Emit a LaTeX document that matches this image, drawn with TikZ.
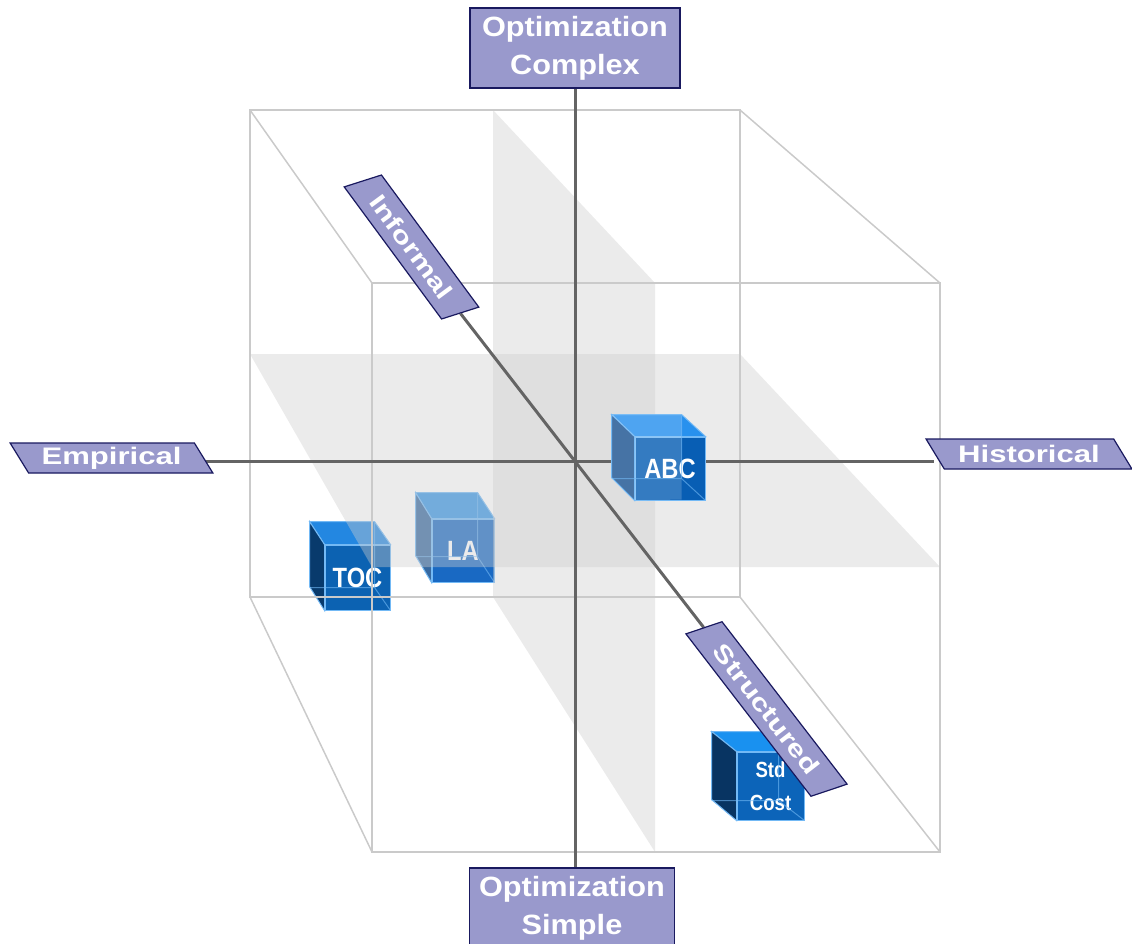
\documentclass[tikz,border=0pt]{standalone}
\usepackage{fontspec}
\setmainfont{Liberation Sans}
\newfontfamily\boxfont[FakeStretch=1.1]{Liberation Sans}
\newfontfamily\tagfont[FakeStretch=1.3]{Liberation Sans}
\newfontfamily\blockfont[FakeStretch=0.85]{Liberation Sans}
\usetikzlibrary{shapes,shapes.geometric}
\usepackage{xcolor}

\definecolor{lavender}{RGB}{153,153,204}
\definecolor{navyline}{RGB}{25,25,95}
\definecolor{wire}{RGB}{202,202,202}
\definecolor{axisgrey}{RGB}{100,100,100}
\definecolor{planegrey}{RGB}{205,205,205}
\definecolor{blockedge}{RGB}{115,185,245}
\definecolor{abcfront}{RGB}{8,94,180}
\definecolor{abctop}{RGB}{40,145,238}
\definecolor{abcside}{RGB}{70,115,165}
\definecolor{lafront}{RGB}{25,105,195}
\definecolor{latop}{RGB}{55,150,230}
\definecolor{laside}{RGB}{55,105,160}
\definecolor{tocfront}{RGB}{12,98,178}
\definecolor{toctop}{RGB}{35,135,225}
\definecolor{tocside}{RGB}{8,58,108}
\definecolor{stdfront}{RGB}{12,100,185}
\definecolor{stdtop}{RGB}{25,145,240}
\definecolor{stdside}{RGB}{8,52,98}

\pgfdeclarelayer{back}
\pgfsetlayers{back,main}

\begin{document}
\begin{tikzpicture}[
        x=1bp, y=-1bp,
        axisbox/.style={
            rectangle, draw=navyline, line width=1.5bp, fill=lavender,
            text=white, align=center, inner sep=0pt,
            font=\boxfont\bfseries\fontsize{28}{38}\selectfont
        },
        axistag/.style={
            trapezium, trapezium stretches=true, draw=navyline,
            line width=1.2bp, fill=lavender, text=white, inner sep=0pt,
            font=\tagfont\bfseries\fontsize{24}{28}\selectfont
        },
        axisline/.style={draw=axisgrey, line width=3bp},
        wireline/.style={draw=wire, line width=1.5bp},
        plane/.style={fill=planegrey, fill opacity=0.4},
        blockfront/.style={
            rectangle, draw=blockedge, line width=1bp, text=white,
            inner sep=0pt, align=center,
            font=\blockfont\bfseries\fontsize{28}{30}\selectfont
        },
        blockface/.style={draw=blockedge, line width=1bp},
        blockinner/.style={draw=blockedge, line width=1bp, opacity=0.6},
        blockglass/.style={fill=white, fill opacity=0.18}
    ]
        \useasboundingbox (0,0) rectangle (1132,944);

        \node (abc) [
            blockfront,
            fill=abcfront,
            minimum width=70bp,
            minimum height=63bp
        ] at (670,468.5) {ABC};
        \filldraw[blockface, fill=abctop] (abc.north west) -- ++(-23,-22) -- ++(70,0) -- (abc.north east) -- cycle;
        \filldraw[blockface, fill=abcside] (abc.north west) -- ++(-23,-22) -- ++(0,63) -- (abc.south west) -- cycle;
        \fill[blockglass] (abc.north west) -- ++(-23,-22) -- ++(70,0) -- ++(0,85) -- (abc.south west) -- cycle;
        \draw[blockinner] (abc.south west) ++(-23,-22) -- ++(70,0) -- ++(0,-63) ++(0,63) -- (abc.south east);

        \node (std) [
            blockfront,
            fill=stdfront,
            minimum width=67bp,
            minimum height=68bp,
            font=\blockfont\bfseries\fontsize{22}{33}\selectfont
        ] at (770.5,786) {Std\\Cost};
        \filldraw[blockface, fill=stdtop] (std.north west) -- ++(-25,-20) -- ++(67,0) -- (std.north east) -- cycle;
        \filldraw[blockface, fill=stdside] (std.north west) -- ++(-25,-20) -- ++(0,68) -- (std.south west) -- cycle;
        \draw[blockinner] (std.south west) ++(-25,-20) -- ++(67,0) -- ++(0,-68) ++(0,68) -- (std.south east);

        \node (cplx) [
            axisbox,
            minimum width=210bp,
            minimum height=80bp
        ] at (575,48) {Optimization\\Complex};

        \node (simp) [
            axisbox,
            minimum width=205bp,
            minimum height=80bp
        ] at (572,908) {Optimization\\Simple};

        \node (emp) [
            axistag,
            trapezium left angle=125,
            trapezium right angle=55,
            minimum width=203bp,
            minimum height=30bp
        ] at (111.5,458) {Empirical};

        \node (hist) [
            axistag,
            trapezium left angle=131,
            trapezium right angle=49,
            minimum width=206bp,
            minimum height=30bp
        ] at (1029,454) {Historical};

        \node (inf) [
            axistag,
            trapezium left angle=60,
            trapezium right angle=120,
            minimum width=177bp,
            minimum height=37bp,
            rotate=-53.6
        ] at (411.5,247) {Informal};

        \node (str) [
            axistag,
            trapezium left angle=60,
            trapezium right angle=120,
            minimum width=218bp,
            minimum height=36bp,
            rotate=-52.4
        ] at (766.5,709) {Structured};

        \begin{pgfonlayer}{back}
            \node (la) [
                blockfront,
                fill=lafront,
                minimum width=62bp,
                minimum height=63bp
            ] at (463,550.5) {LA};
            \filldraw[blockface, fill=latop] (la.north west) -- ++(-16,-26) -- ++(62,0) -- (la.north east) -- cycle;
            \filldraw[blockface, fill=laside] (la.north west) -- ++(-16,-26) -- ++(0,63) -- (la.south west) -- cycle;
            \draw[blockinner] (la.south west) ++(-16,-26) -- ++(62,0) -- ++(0,-63) ++(0,63) -- (la.south east);

            \node (toc) [
                blockfront,
                fill=tocfront,
                minimum width=65bp,
                minimum height=65bp
            ] at (357.5,577.5) {TOC};
            \filldraw[blockface, fill=toctop] (toc.north west) -- ++(-15,-23) -- ++(65,0) -- (toc.north east) -- cycle;
            \filldraw[blockface, fill=tocside] (toc.north west) -- ++(-15,-23) -- ++(0,65) -- (toc.south west) -- cycle;
            \draw[blockinner] (toc.south west) ++(-15,-23) -- ++(65,0) -- ++(0,-65) ++(0,65) -- (toc.south east);

            \fill[plane] (493,110) -- (655,283) -- (655,852) -- (493,597) -- cycle;
            \fill[plane] (250,354) -- (740,354) -- (940,567) -- (372,567) -- cycle;

            \draw[wireline] (250,110) rectangle (740,597);
            \draw[wireline] (372,283) rectangle (940,852);
            \draw[wireline] (250,110) -- (372,283) (740,110) -- (940,283) (250,597) -- (372,852) (740,597) -- (940,852);

            \coordinate (O) at (576,461);
            \draw[axisline] (cplx.south) -- (cplx.south |- simp.north);
            \draw[axisline] (emp.east |- O) -- (hist.west |- O);
            \draw[axisline] (inf.east) -- (str.west);
        \end{pgfonlayer}
    \end{tikzpicture}
\end{document}
